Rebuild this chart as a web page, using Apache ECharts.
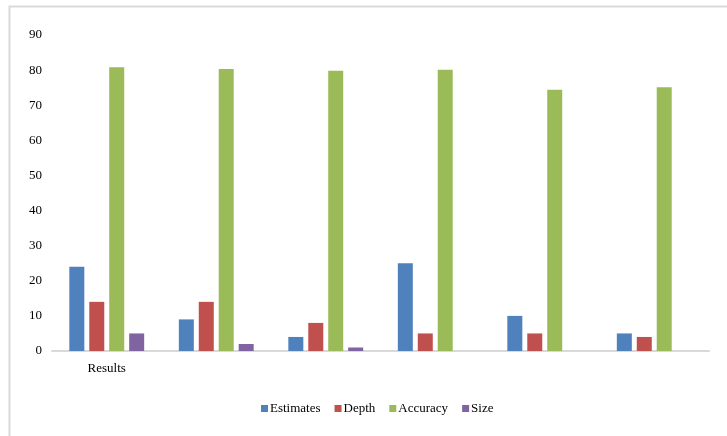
<!DOCTYPE html>
<html>
<head>
<meta charset="utf-8">
<script src="https://cdn.jsdelivr.net/npm/echarts@6/dist/echarts.min.js"></script>
<style>
  html, body { margin: 0; padding: 0; background: #ffffff; }
  #chart { width: 727px; height: 436px; }
</style>
</head>
<body>
<div id="chart"></div>
<script>
// Category labels (only the first group is labelled)
const categories = ['Results', '', '', '', '', ''];

// Series values per group
const estimates = [24, 9, 4, 25, 10, 5];
const depth = [14, 14, 8, 5, 5, 4];
const accuracy = [80.8, 80.3, 79.8, 80.1, 74.4, 75.1];
const size = [5, 2, 1, 0, 0, 0];

const seriesNames = ['Estimates', 'Depth', 'Accuracy', 'Size'];
const seriesColors = ['#4f81bd', '#c0504d', '#9bbb59', '#8064a2'];
const seriesData = [estimates, depth, accuracy, size];

const font = '"Liberation Serif", "Times New Roman", serif';

const chart = echarts.init(document.getElementById('chart'), null, { renderer: 'canvas' });

chart.setOption({
  animation: false,
  backgroundColor: '#ffffff',
  textStyle: { fontFamily: font },
  graphic: [{
    type: 'rect',
    silent: true,
    z: -10,
    shape: { x: 9.5, y: 6.5, width: 900, height: 600 },
    style: { fill: 'none', stroke: '#d9d9d9', lineWidth: 2 }
  }],
  grid: { left: 52, right: 18, top: 35, bottom: 85, containLabel: false },
  legend: {
    data: seriesNames,
    bottom: 16,
    left: 256,
    itemWidth: 7,
    itemHeight: 7,
    itemGap: 14,
    icon: 'rect',
    textStyle: { fontFamily: font, fontSize: 13, color: '#000000', padding: [0, 0, 0, -3] }
  },
  xAxis: {
    type: 'category',
    data: categories,
    axisLine: { lineStyle: { color: '#d9d9d9', width: 2 } },
    axisTick: { show: false },
    axisLabel: { fontFamily: font, fontSize: 13, color: '#000000', margin: 11 }
  },
  yAxis: {
    type: 'value',
    min: 0,
    max: 90,
    interval: 10,
    axisLine: { show: false },
    axisTick: { show: false },
    splitLine: { show: false },
    axisLabel: { fontFamily: font, fontSize: 13, color: '#000000', margin: 10 }
  },
  series: seriesNames.map((name, i) => ({
    name: name,
    type: 'bar',
    data: seriesData[i],
    barWidth: 15,
    barGap: '33%',
    itemStyle: { color: seriesColors[i] }
  }))
});
</script>
</body>
</html>
